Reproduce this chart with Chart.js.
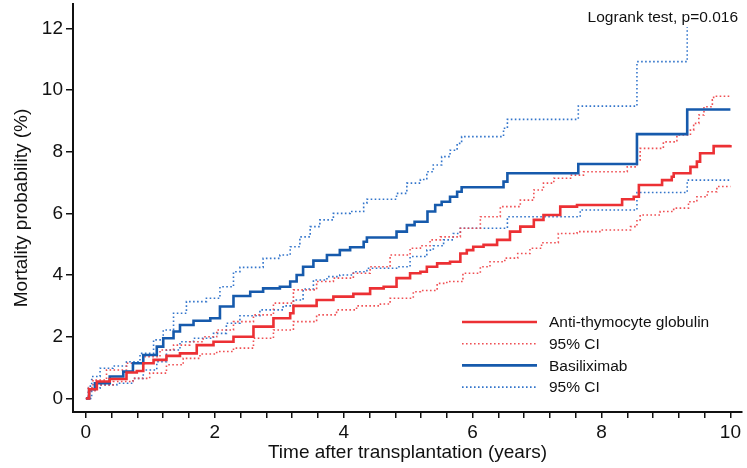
<!DOCTYPE html>
<html>
<head>
<meta charset="utf-8">
<script src="https://cdn.jsdelivr.net/npm/chart.js@4.4.1/dist/chart.umd.min.js"></script>
<style>
html,body{margin:0;padding:0;background:#fff;}
#wrap{width:747px;height:468px;position:relative;}
</style>
</head>
<body>
<div id="wrap"><canvas id="c"></canvas></div>
<script>
// ---- Data ----
const atgTime = [0,0.05,0.17,0.37,0.63,0.79,0.89,1.05,1.25,1.46,1.72,1.98,2.29,2.6,2.91,3.17,3.22,3.58,3.84,4.15,4.41,4.62,4.82,5.03,5.19,5.29,5.45,5.65,5.81,5.91,6.01,6.17,6.38,6.58,6.74,6.95,7.1,7.36,7.62,8.32,8.5,8.58,8.94,9.09,9.12,9.38,9.48,9.53,9.74,10];
const atgEst  = [0,0.3,0.55,0.63,0.84,0.89,1.14,1.25,1.38,1.46,1.73,1.84,2.0,2.33,2.6,2.76,3.0,3.19,3.3,3.39,3.57,3.62,3.9,4.06,4.11,4.27,4.38,4.43,4.7,4.81,4.92,4.98,5.14,5.41,5.57,5.79,5.95,6.22,6.27,6.46,6.54,6.92,7.08,7.19,7.3,7.51,7.68,7.95,8.18,8.22];

const atgUpTime = [0,0.04,0.11,0.32,0.63,0.89,1.15,1.36,1.61,1.82,2.03,2.29,2.6,2.91,3.22,3.58,3.84,4.15,4.41,4.72,5.03,5.19,5.34,5.5,5.81,6.12,6.43,6.74,6.95,7.1,7.26,7.52,7.72,8.4,8.55,8.6,8.96,9.17,9.38,9.43,9.51,9.59,9.72,9.74,10];
const atgUp     = [0,0.35,0.6,0.92,1.14,1.35,1.57,1.73,1.84,2.0,2.22,2.49,2.71,3.09,3.52,3.79,3.9,4.06,4.27,4.65,4.87,4.95,5.14,5.24,5.52,5.89,6.22,6.43,6.76,6.98,7.14,7.24,7.35,7.51,7.73,8.11,8.32,8.54,8.7,8.92,9.19,9.46,9.68,9.8,9.8];

const atgLoTime = [0,0.05,0.17,0.42,0.73,0.99,1.25,1.51,1.77,2.03,2.29,2.6,2.91,3.22,3.58,3.89,4.2,4.57,4.72,5.08,5.19,5.45,5.6,5.85,6.12,6.27,6.5,6.7,6.89,7.07,7.33,7.62,8.0,8.45,8.55,8.6,8.91,9.12,9.35,9.48,9.64,9.79,10];
const atgLo     = [0,0.25,0.44,0.55,0.65,0.82,1.09,1.3,1.44,1.52,1.63,1.95,2.22,2.49,2.71,2.87,3.0,3.06,3.25,3.46,3.5,3.73,3.79,4.06,4.27,4.43,4.55,4.7,4.87,5.05,5.35,5.41,5.46,5.57,5.79,5.95,6.06,6.17,6.38,6.54,6.7,6.87,6.87];

const basTime = [0,0.05,0.14,0.37,0.58,0.73,0.89,1.1,1.2,1.36,1.46,1.67,1.93,2.08,2.29,2.55,2.75,3.01,3.17,3.27,3.37,3.53,3.74,3.94,4.1,4.31,4.36,4.82,4.98,5.1,5.3,5.42,5.52,5.65,5.76,5.83,6.48,6.54,7.64,8.55,9.33,10];
const basEst  = [0,0.3,0.49,0.71,0.87,1.14,1.41,1.68,1.95,2.17,2.38,2.52,2.6,2.98,3.32,3.46,3.57,3.62,3.79,4.0,4.27,4.47,4.65,4.81,4.9,5.08,5.22,5.41,5.62,5.73,6.06,6.27,6.38,6.54,6.7,6.85,7.03,7.3,7.6,8.57,9.37,9.37];

const basUpTime = [0,0.04,0.09,0.22,0.42,0.63,0.84,1.05,1.2,1.36,1.56,1.87,2.08,2.29,2.39,2.75,3.01,3.17,3.32,3.48,3.63,3.84,4.1,4.31,4.36,4.82,4.98,5.19,5.29,5.39,5.52,5.65,5.76,5.83,6.48,6.54,7.64,8.55,9.33,10];
const basUp     = [0,0.4,0.71,0.98,1.05,1.19,1.46,1.9,2.22,2.76,3.14,3.25,3.62,4.11,4.25,4.54,4.65,4.92,5.24,5.57,5.79,6.0,6.06,6.33,6.46,6.65,6.98,7.1,7.35,7.57,7.84,8.05,8.27,8.49,8.76,9.05,9.48,10.92,12.43,12.43];

const basLoTime = [0,0.09,0.22,0.48,0.73,0.89,1.1,1.25,1.46,1.67,1.98,2.18,2.39,2.7,3.06,3.22,3.37,3.53,3.74,3.94,4.15,4.36,4.82,5.03,5.29,5.39,5.55,5.7,5.81,6.54,7.67,8.55,9.33,10];
const basLo     = [0,0.33,0.44,0.49,0.65,0.92,1.19,1.57,1.84,1.95,2.11,2.44,2.68,2.87,3.0,3.19,3.55,3.84,3.95,4.0,4.11,4.22,4.27,4.6,4.81,4.95,5.14,5.35,5.52,5.89,6.11,6.68,7.08,7.08];

const xTicks = [0,0.4,0.8,1.2,1.6,2,2.4,2.8,3.2,3.6,4,4.4,4.8,5.2,5.6,6,6.4,6.8,7.2,7.6,8,8.4,8.8,9.2,9.6,10];
const xLabelTicks = [0,2,4,6,8,10];
const yTicks = [0,2,4,6,8,10,12];

const seriesLabels = ['Anti-thymocyte globulin','95% CI','Basiliximab','95% CI'];
const annotationText = 'Logrank test, p=0.016';

// ---- Build ----
const pts = (t, v) => t.map((x, i) => ({x: x, y: v[i]}));
const RED = 'rgb(236,48,52)';
const RED_CI = 'rgba(238,70,74,0.95)';
const BLUE = 'rgb(22,90,172)';
const BLUE_CI = 'rgba(40,110,200,0.95)';
const FONT = "'Liberation Sans', Arial, Helvetica, sans-serif";

const solid = (label, data, color) => ({label, data, borderColor: color, borderWidth: 2.6, pointRadius: 0, stepped: 'before', fill: false});
const dotted = (label, data, color) => ({label, data, borderColor: color, borderWidth: 1.6, borderDash: [1.6, 2.4], pointRadius: 0, stepped: 'before', fill: false});

const datasets = [
  solid(seriesLabels[0], pts(atgTime, atgEst), RED),
  solid(seriesLabels[2], pts(basTime, basEst), BLUE),
  dotted(seriesLabels[1], pts(atgUpTime, atgUp), RED_CI),
  dotted(seriesLabels[1], pts(atgLoTime, atgLo), RED_CI),
  dotted(seriesLabels[3], pts(basUpTime, basUp), BLUE_CI),
  dotted(seriesLabels[3], pts(basLoTime, basLo), BLUE_CI)
];
const legendOrder = [0, 2, 1, 4];

const overlayPlugin = {
  id: 'overlay',
  afterDatasetsDraw(chart) {
    const ctx = chart.ctx, a = chart.chartArea;
    ctx.save();
    // annotation
    ctx.font = '15.5px ' + FONT;
    const tw = ctx.measureText(annotationText).width;
    const tx = a.right - 4;
    ctx.fillStyle = '#fff';
    ctx.fillRect(tx - tw - 3, a.top + 1, tw + 6, 22);
    ctx.fillStyle = '#111';
    ctx.textAlign = 'right';
    ctx.textBaseline = 'alphabetic';
    ctx.fillText(annotationText, tx, a.top + 17.5);
    // legend
    const x0 = a.right - 280, x1 = a.right - 205, xt = a.right - 193;
    const y0 = a.bottom - 90, dy = 21.7;
    ctx.textAlign = 'left';
    ctx.textBaseline = 'middle';
    legendOrder.forEach((di, i) => {
      const ds = chart.data.datasets[di];
      const y = y0 + i * dy;
      ctx.beginPath();
      ctx.strokeStyle = ds.borderColor;
      ctx.lineWidth = ds.borderWidth;
      ctx.setLineDash(ds.borderDash || []);
      ctx.moveTo(x0, y);
      ctx.lineTo(x1, y);
      ctx.stroke();
      ctx.setLineDash([]);
      ctx.fillStyle = '#111';
      ctx.fillText(ds.label, xt, y + 1);
    });
    ctx.restore();
  }
};

new Chart(document.getElementById('c'), {
  type: 'line',
  data: {datasets},
  options: {
    responsive: true,
    maintainAspectRatio: false,
    animation: false,
    layout: {padding: {top: 4, right: 5, left: 0, bottom: 0}},
    plugins: {legend: {display: false}, tooltip: {enabled: false}},
    scales: {
      x: {
        type: 'linear',
        min: -0.2, max: 10.18,
        afterBuildTicks: s => { s.ticks = xTicks.map(v => ({value: v})); },
        afterFit: s => { s.height = 56; s.paddingLeft = 0; s.paddingRight = 0; },
        ticks: {
          autoSkip: false, maxRotation: 0, padding: 3,
          color: '#111', font: {family: FONT, size: 19},
          callback: v => xLabelTicks.some(t => Math.abs(t - v) < 1e-6) ? String(Math.round(v)) : ''
        },
        grid: {drawOnChartArea: false, drawTicks: true, tickLength: 6, color: '#111', lineWidth: 1.5},
        border: {display: true, color: '#111', width: 2},
        title: {display: true, text: 'Time after transplantation (years)', color: '#111', font: {family: FONT, size: 19}, padding: {top: 0, bottom: 4}}
      },
      y: {
        type: 'linear',
        min: -0.44, max: 12.79,
        afterBuildTicks: s => { s.ticks = yTicks.map(v => ({value: v})); },
        afterFit: s => { s.width = 73; s.paddingTop = 0; s.paddingBottom = 0; },
        ticks: {padding: 3, color: '#111', font: {family: FONT, size: 19}, callback: v => String(v)},
        grid: {drawOnChartArea: false, drawTicks: true, tickLength: 7, color: '#111', lineWidth: 1.5},
        border: {display: true, color: '#111', width: 2},
        title: {display: true, text: 'Mortality probability (%)', color: '#111', font: {family: FONT, size: 19}, padding: {top: 10, bottom: 0}}
      }
    }
  },
  plugins: [overlayPlugin]
});
</script>
</body>
</html>
